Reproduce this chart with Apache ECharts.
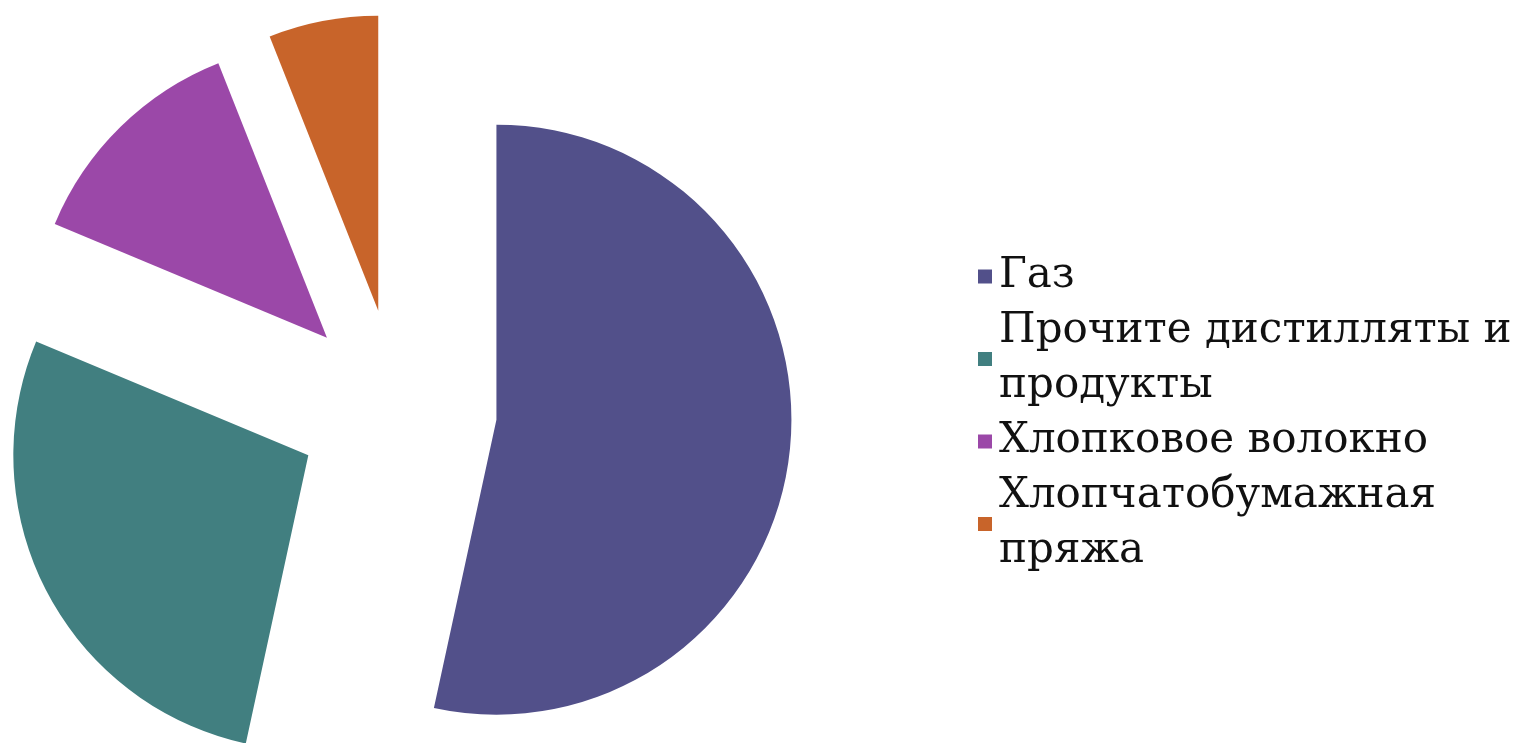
<!DOCTYPE html>
<html><head><meta charset="utf-8">
<script src="https://cdn.jsdelivr.net/npm/echarts@6/dist/echarts.min.js"></script>
<style>html,body{margin:0;padding:0;background:#fff}#c{width:1527px;height:743px}</style>
</head><body><div id="c"></div>
<script>
const categories = ['Газ', 'Прочите дистилляты и продукты', 'Хлопковое волокно', 'Хлопчатобумажная пряжа'];
const values = [53.4, 27.9, 12.7, 6.0];
const legendLabels = ['Газ', 'Прочите дистилляты и\nпродукты', 'Хлопковое волокно', 'Хлопчатобумажная\nпряжа'];
const colors = ['#52508a', '#417f80', '#9b48a8', '#c8642a'];

const chart = echarts.init(document.getElementById('c'));
chart.setOption({
  animation: false,
  color: colors,
  legend: {
    orient: 'vertical',
    left: 973,
    top: 244,
    itemWidth: 14,
    itemHeight: 14,
    itemGap: 0,
    icon: 'rect',
    selectedMode: false,
    formatter: name => legendLabels[categories.indexOf(name)],
    textStyle: { fontFamily: 'DejaVu Serif', fontSize: 42, lineHeight: 55, color: '#111', padding: [0, 0, 0, 2] },
    data: categories
  },
  series: [{
    type: 'pie',
    center: [397, 409],
    radius: [0, 295],
    startAngle: 90,
    clockwise: true,
    selectedMode: 'multiple',
    selectedOffset: 100,
    label: { show: false },
    labelLine: { show: false },
    emphasis: { disabled: true },
    data: categories.map((n, i) => ({ name: n, value: values[i], selected: true }))
  }]
});
</script></body></html>
